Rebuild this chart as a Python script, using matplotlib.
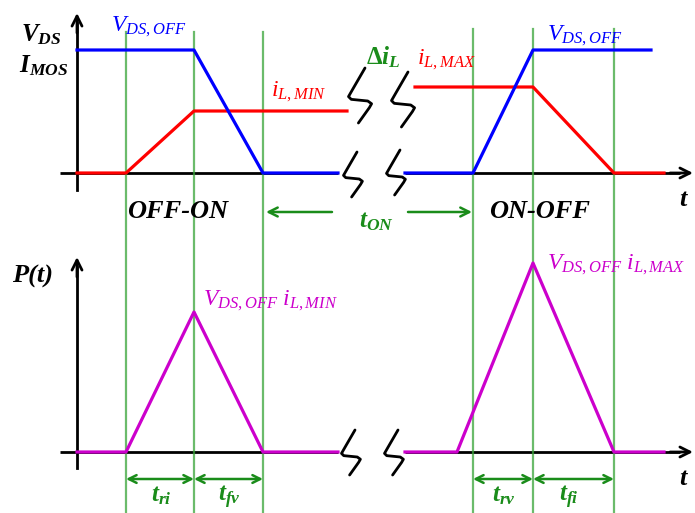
import numpy as np
import matplotlib.pyplot as plt

plt.rcParams['mathtext.fontset'] = 'custom'
plt.rcParams['mathtext.rm'] = 'Liberation Serif'
plt.rcParams['mathtext.it'] = 'Liberation Serif:italic'
plt.rcParams['mathtext.bf'] = 'Liberation Serif:bold'
plt.rcParams['mathtext.bfit'] = 'Liberation Serif:italic:bold'

# switching instants (drawing units, y grows downward)
t_off_on = [126, 194, 263]
t_on_off = [473, 533, 614]

# top plot: V_DS and I_MOS
vds_left_x = [77, 194, 263, 338]
vds_left_y = [50, 50, 173, 173]
il_left_x = [77, 126, 194, 347]
il_left_y = [173, 173, 111, 111]
vds_right_x = [405, 473, 533, 651]
vds_right_y = [173, 173, 50, 50]
il_right_x = [415, 533, 614, 664]
il_right_y = [87, 87, 173, 173]

# bottom plot: switching power P(t)
p_left_x = [77, 126, 194, 263, 338]
p_left_y = [452, 452, 312, 452, 452]
p_right_x = [405, 457, 533, 614, 664]
p_right_y = [452, 452, 263, 452, 452]

# axis breaks (top x, top y, height)
breaks = [(365, 68, 55), (408, 72, 55),
          (357, 152, 45), (400, 150, 45),
          (355, 430, 45), (398, 430, 45)]

BLUE = '#0000ff'
RED = '#ff0000'
MAG = '#cc00cc'
GREEN = '#1a8c1a'
VLINE = '#3aa53a'

fig = plt.figure(figsize=(6.95, 5.13), dpi=100)
ax = fig.add_axes([0, 0, 1, 1])
ax.set_xlim(0, 695)
ax.set_ylim(513, 0)
ax.axis('off')

def arrow(x0, y0, x1, y1, color='black', lw=2.0, style='->', ms=18):
    ax.annotate('', xy=(x1, y1), xytext=(x0, y0),
                arrowprops=dict(arrowstyle=style, color=color, lw=lw,
                                mutation_scale=ms, shrinkA=0, shrinkB=0))

# axes
for y0, ytop, ybot in [(173, 13, 190), (452, 257, 468)]:
    ax.plot([60, 338], [y0, y0], color='black', lw=2, solid_capstyle='butt')
    ax.plot([405, 680], [y0, y0], color='black', lw=2, solid_capstyle='butt')
    arrow(670, y0, 693, y0)
    ax.plot([77, 77], [ybot, ytop + 10], color='black', lw=2)
    arrow(77, ytop + 20, 77, ytop)

# vertical markers
for x in t_off_on:
    ax.plot([x, x], [32, 513], color=VLINE, lw=1.6, alpha=0.75)
for x in t_on_off:
    ax.plot([x, x], [29, 513], color=VLINE, lw=1.6, alpha=0.75)

# waveforms
ax.plot(il_left_x, il_left_y, color=RED, lw=2.3)
ax.plot(vds_left_x, vds_left_y, color=BLUE, lw=2.3)
ax.plot(il_right_x, il_right_y, color=RED, lw=2.3)
ax.plot(vds_right_x, vds_right_y, color=BLUE, lw=2.3)
ax.plot(p_left_x, p_left_y, color=MAG, lw=2.3)
ax.plot(p_right_x, p_right_y, color=MAG, lw=2.3)

# break squiggles
tmpl = np.array([(0, 0), (-0.22, 0.38), (-0.30, 0.52), (-0.25, 0.57),
                 (0.05, 0.60), (0.12, 0.65), (0.08, 0.72), (-0.12, 1.0)])
for bx, by, h in breaks:
    ax.plot(bx + tmpl[:, 0] * h, by + tmpl[:, 1] * h, color='black',
            lw=2, solid_joinstyle='round', solid_capstyle='round')

# t_ON arrows
arrow(332, 212, 266, 212, color=GREEN, lw=1.8, ms=16)
arrow(408, 212, 472, 212, color=GREEN, lw=1.8, ms=16)

# transition time arrows
for xs, y in [(t_off_on, 479), (t_on_off, 479)]:
    arrow(xs[1], y, xs[0], y, color=GREEN, lw=1.8, style='<->', ms=14)
    arrow(xs[1], y, xs[2], y, color=GREEN, lw=1.8, style='<->', ms=14)

def txt(x, y, s, color='black', size=17, **kw):
    ax.text(x, y, s, color=color, fontsize=size, ha='left', va='baseline',
            **kw)

serif_bi = dict(family='Liberation Serif', style='italic', weight='bold')

txt(21, 41, r'$\mathbfit{V}_{\mathbfit{DS}}$', size=18)
txt(19, 72, r'$\mathbfit{I}_{\mathbfit{MOS}}$', size=18)
txt(111, 31, r'$V_{DS,OFF}$', color=BLUE)
txt(271, 96, r'$i_{L,MIN}$', color=RED)
txt(366, 64, r'$\mathbf{\Delta}\mathbfit{i}_{\mathbfit{L}}$', color=GREEN, size=18)
txt(417, 64, r'$i_{L,MAX}$', color=RED)
txt(547, 40, r'$V_{DS,OFF}$', color=BLUE)
txt(679, 206, 't', size=19, **serif_bi)
txt(679, 485, 't', size=19, **serif_bi)
txt(127, 218, 'OFF-ON', size=19, **serif_bi)
txt(489, 218, 'ON-OFF', size=19, **serif_bi)
txt(359, 227, r'$\mathbfit{t}_{\mathbfit{ON}}$', color=GREEN, size=18)
txt(12, 283, 'P(t)', size=19, **serif_bi)
txt(203, 305, r'$V_{DS,OFF}\ i_{L,MIN}$', color=MAG)
txt(547, 269, r'$V_{DS,OFF}\ i_{L,MAX}$', color=MAG)
txt(151, 501, r'$\mathbfit{t}_{\mathbfit{ri}}$', color=GREEN, size=18)
txt(218, 501, r'$\mathbfit{t}_{\mathbfit{fv}}$', color=GREEN, size=18)
txt(492, 501, r'$\mathbfit{t}_{\mathbfit{rv}}$', color=GREEN, size=18)
txt(559, 501, r'$\mathbfit{t}_{\mathbfit{fi}}$', color=GREEN, size=18)

fig.savefig('out.png', dpi=100)
